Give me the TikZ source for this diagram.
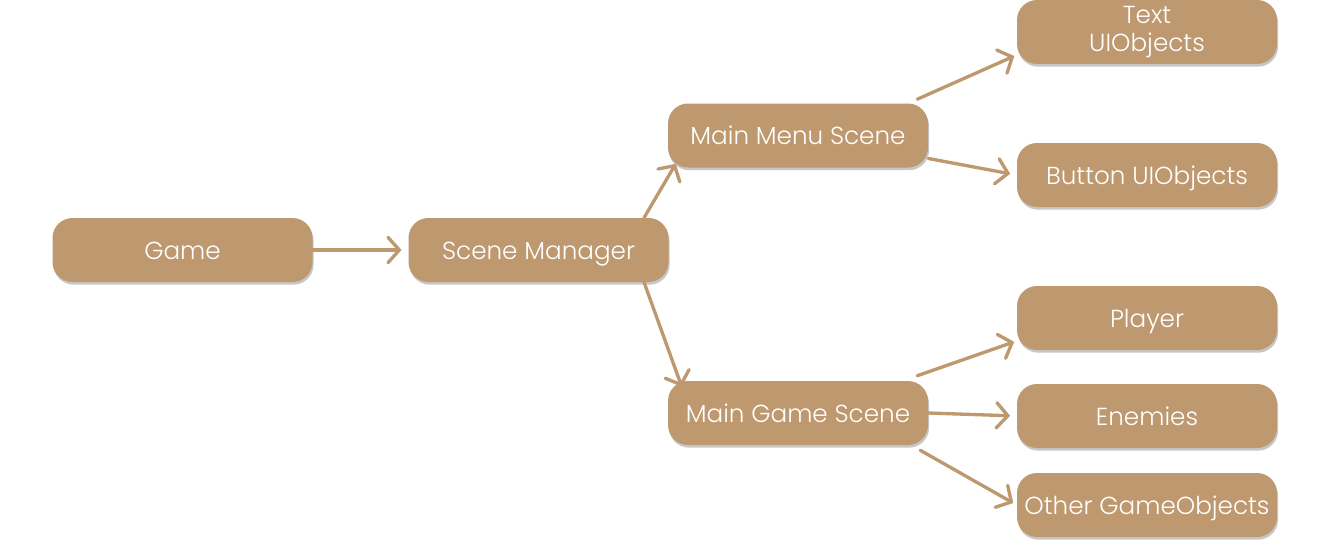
\documentclass[tikz,border=0pt]{standalone}
\usepackage{fontspec}
\setmainfont{Poppins}[UprightFont=* Light]
\usepackage{tikz}
\usetikzlibrary{arrows.meta,positioning,shadows,calc}
\definecolor{boxtan}{HTML}{BE986E}

\begin{document}
\begin{tikzpicture}[x=0.75pt,y=-0.75pt,
  box/.style={rounded corners=15pt, fill=boxtan, text=white, minimum width=195pt,
    minimum height=48pt, align=center, inner sep=2pt,
    font=\fontsize{18.5}{21}\selectfont,
    drop shadow={shadow xshift=0.8pt, shadow yshift=-2pt, opacity=0.22, fill=black}},
  onebox/.style={box, text height=15pt, text depth=1pt},
  link/.style={draw=boxtan, line width=2.5pt, line cap=round,
    -{Straight Barb[length=8.5pt,width=19pt,line width=2.5pt,line cap=round]}}]
\useasboundingbox (0,0) rectangle (1330,542);
% Root and manager
\node[onebox] (gm) at (182.5,250) {Game};
\node[onebox] (sm) at (538.5,250) {Scene Manager};
% Scenes
\node[onebox] (mm) at (798,135.5) {Main Menu Scene};
\node[onebox] (mg) at (798,413) {Main Game Scene};
% Objects of each scene
\node[box] (tx) at (1147,32) {Text\\UIObjects};
\node[onebox] (bt) at (1147,175) {Button UIObjects};
\node[onebox] (pl) at (1147,318) {Player};
\node[onebox] (en) at (1147,416) {Enemies};
\node[onebox] (ot) at (1147,505) {Other GameObjects};
% Connectors
\draw[link, shorten >=5pt] (gm.east) -- (sm.west);
\draw[link] (sm.17.5) -- ($(mm.south west)+(8,-4)$);
\draw[link] (sm.-17.5) -- ($(mg.north west)+(14,6)$);
\draw[link, shorten >=2pt] ($(mm.north east)+(-11,-4)$) -- (tx.190);
\draw[link, shorten >=2pt] ($(mg.north east)+(-11,-5)$) -- (pl.190);
\draw[link, shorten >=3pt] ($(mg.south east)+(-8,5)$) -- (ot.west);
\foreach \s/\t in {mm.-10/bt.west, mg.east/en.west} {
  \draw[link, shorten >=5pt] (\s) -- (\t);
}
\end{tikzpicture}
\end{document}
